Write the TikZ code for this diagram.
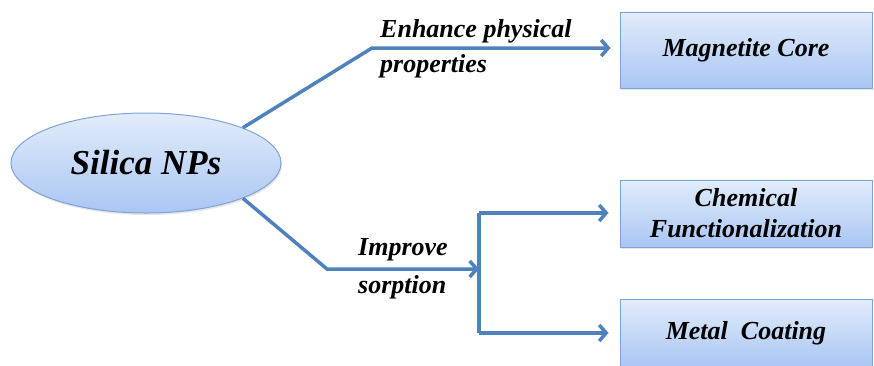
\documentclass[tikz,border=0pt]{standalone}
\usepackage{fontspec}
\setmainfont{Liberation Serif}
\usepackage{tikz}
\usetikzlibrary{arrows.meta,shapes.geometric,shadows}
\definecolor{linkblue}{HTML}{4F81BD}
\definecolor{boxline}{HTML}{7EA3D6}
\definecolor{boxtop}{HTML}{E2ECFB}
\definecolor{boxbot}{HTML}{A9C6F3}

\begin{document}
\begin{tikzpicture}[x=1pt,y=-1pt,
  blob/.style={ellipse, draw=boxline, line width=1pt,
    top color=boxtop, bottom color=boxbot,
    minimum width=270pt, minimum height=100pt, inner sep=0pt,
    drop shadow={opacity=0.2, shadow xshift=1pt, shadow yshift=-2pt},
    font=\fontsize{35}{40}\selectfont\bfseries\itshape},
  target/.style={rectangle, draw=boxline, line width=1pt,
    top color=boxtop, bottom color=boxbot,
    minimum width=252pt, align=center, inner sep=0pt,
    drop shadow={opacity=0.2, shadow xshift=1pt, shadow yshift=-2pt},
    font=\fontsize{26}{31}\selectfont\bfseries\itshape},
  lbl/.style={anchor=base west, inner sep=0pt,
    font=\fontsize{26}{30}\selectfont\bfseries\itshape},
  wire/.style={draw=linkblue, line width=3.5pt},
  link/.style={wire, -{Straight Barb[length=7pt,width=16pt]}}]

  \useasboundingbox (0,0) rectangle (874,365);

  %% boxes
  \node[blob] (silica) at (146,163) {Silica NPs};
  \node[target, minimum height=76pt] (core) at (746,50) {Magnetite Core};
  \node[target, minimum height=67pt] (chem) at (746,213.5) {Chemical\\Functionalization};
  \node[target, minimum height=67pt] (metal) at (746,333) {Metal\ \ Coating};

  %% bends
  \coordinate (upbend) at (372,48);
  \coordinate (lowbend) at (327,269);
  \coordinate (fork) at (479,269);
  \coordinate (forkup) at (479,213);
  \coordinate (forkdown) at (479,333);

  %% silica - core
  \draw[link, shorten >=9pt] (silica.20) -- (upbend) -- (upbend -| core.west);

  %% silica - fork
  \draw[link] (silica.-20) -- (lowbend) -- (fork);
  \draw[wire] (forkup) -- (forkdown);

  %% fork - chem, fork - metal
  \draw[link, shorten >=11pt] (forkup) -- (forkup -| chem.west);
  \draw[link, shorten >=11pt] (forkdown) -- (forkdown -| metal.west);

  %% labels
  \node[lbl] (enhance) at (380,37) {Enhance physical};
  \node[lbl] (props) at (380,72) {properties};
  \node[lbl] (improve) at (358,255) {Improve};
  \node[lbl] (sorption) at (358,293) {sorption};

\end{tikzpicture}
\end{document}
